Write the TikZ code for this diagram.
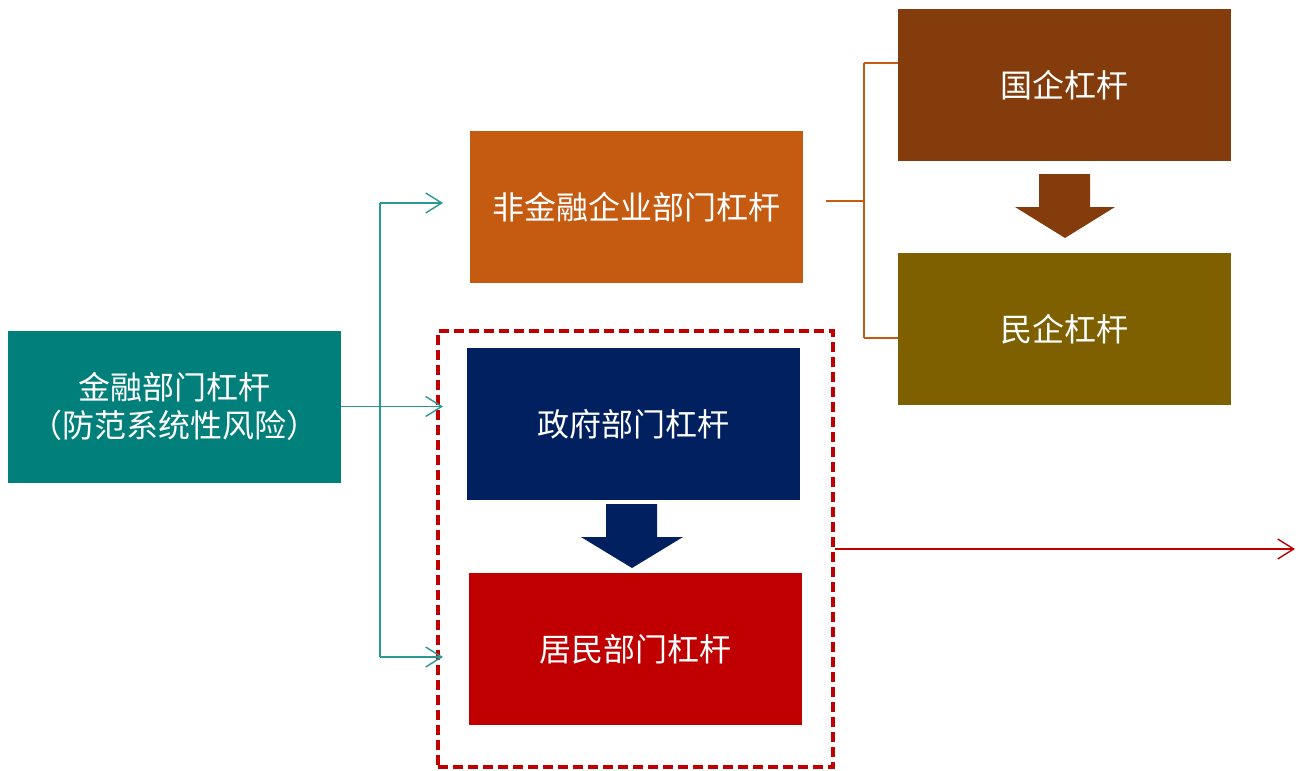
\documentclass[tikz,border=0pt]{standalone}
\usepackage{fontspec}
\newfontfamily\cjk{Noto Sans CJK SC}
\usetikzlibrary{arrows.meta}
\definecolor{cteal}{HTML}{007F7B}
\definecolor{ctealline}{HTML}{2A9893}
\definecolor{corange}{HTML}{C55A11}
\definecolor{cnavy}{HTML}{002060}
\definecolor{cred}{HTML}{C00000}
\definecolor{cbrown}{HTML}{843C0C}
\definecolor{colive}{HTML}{7F6000}
\tikzset{
  box/.style={minimum width=333pt, minimum height=152pt, inner sep=0pt, text=white,
    font=\cjk\fontsize{32}{38}\selectfont, align=center},
  barb/.style={-{Straight Barb[length=16pt,width=20pt,line width=1.4pt]}},
  tealline/.style={draw=ctealline, line width=1.5pt},
  orangeline/.style={draw=corange, line width=1.5pt},
  redline/.style={draw=cred, line width=1.5pt},
}
\begin{document}
\begin{tikzpicture}[x=1pt,y=-1pt]
\useasboundingbox (0,0) rectangle (1296,771);
% boxes
\node[box, fill=cteal] (fin) at (174.5,406.5) {金融部门杠杆\\（防范系统性风险）};
\node[box, fill=corange] (nonfin) at (636.5,207) {非金融企业部门杠杆};
\node[box, fill=cnavy] (gov) at (633.5,424) {政府部门杠杆};
\node[box, fill=cred] (hh) at (635.5,649) {居民部门杠杆};
\node[box, fill=cbrown] (soe) at (1064.5,85) {国企杠杆};
\node[box, fill=colive] (pe) at (1064.5,329) {民企杠杆};
% dashed group
\node[draw=cred, line width=3.5pt, dash pattern=on 10pt off 5pt, minimum width=395pt, minimum height=436pt, inner sep=0pt] (grp) at (635.5,549) {};
% block arrows
\fill[cbrown] (1039,174) -- (1090,174) -- (1090,207) -- (1115,207) -- (1065,238) -- (1015,207) -- (1039,207) -- cycle;
\fill[cnavy] (606,504) -- (657,504) -- (657,537) -- (683,537) -- (632,568) -- (581,537) -- (606,537) -- cycle;
% teal connectors
\coordinate (tj) at (380,406.5);
\coordinate (ttop) at (380,203);
\coordinate (tbot) at (380,657);
\coordinate (e1) at (443,203);
\coordinate (e2) at (443,406.5);
\coordinate (e3) at (443,657);
\draw[tealline] (fin.east) -- (tj);
\draw[tealline] (ttop) -- (tbot);
\draw[tealline, barb] (ttop) -- (e1);
\draw[tealline, barb] (tj) -- (e2);
\draw[tealline, barb] (tbot) -- (e3);
% orange connectors
\coordinate (o0) at (826,201);
\coordinate (oj) at (864,201);
\coordinate (otop) at (864,63);
\coordinate (obot) at (864,338);
\draw[orangeline] (o0) -- (oj);
\draw[orangeline] (otop) -- (obot);
\draw[orangeline] (otop) -- (soe.west |- otop);
\draw[orangeline] (obot) -- (pe.west |- obot);
% red connector
\coordinate (rend) at (1295,549);
\draw[redline, barb] (grp.east) -- (rend);
\end{tikzpicture}
\end{document}
